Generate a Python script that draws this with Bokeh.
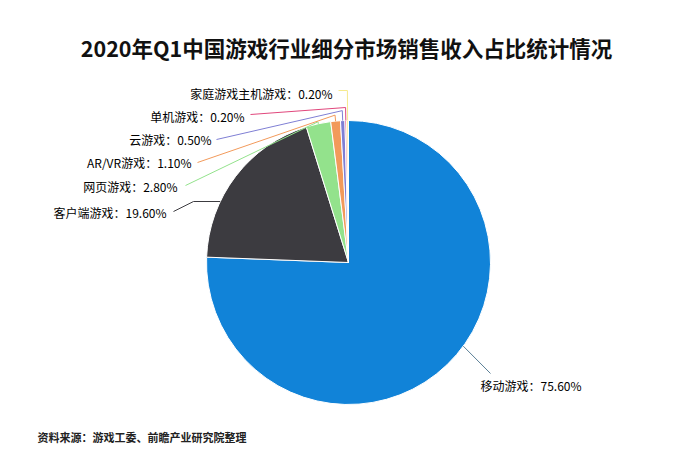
import numpy as np
from bokeh.plotting import figure
from bokeh.models import Range1d, ColumnDataSource
from bokeh.core.properties import value
from bokeh.embed import file_html
from bokeh.resources import INLINE

# ---- data ----
title = "2020年Q1中国游戏行业细分市场销售收入占比统计情况"
categories = ["移动游戏", "客户端游戏", "网页游戏", "AR/VR游戏", "云游戏", "单机游戏", "家庭游戏主机游戏"]
shares = [75.6, 19.6, 2.8, 1.1, 0.5, 0.2, 0.2]
colors = ["#1183d8", "#3c3b40", "#93e28c", "#f29a5b", "#7f7fd4", "#e0477c", "#f6ea8e"]
line_colors = ["#5b7f96", "#3c3b40", "#93e28c", "#f29a5b", "#7f7fd4", "#e0477c", "#f6ea8e"]
source_note = "资料来源：游戏工委、前瞻产业研究院整理"

# ---- layout (screen-like coordinates, y measured from top) ----
W, H = 676, 459
CX, CY, R = 348, 262, 142
# label anchor (x, y, align), radial extension of leader, attach-angle offset (deg)
label_layout = [
    (480, 385, "left", 0, -10),
    (166, 212, "right", 0, -12),
    (177, 186, "right", 2, 0),
    (191, 162, "right", 6, 0),
    (211, 139, "right", 10, 0),
    (244, 116, "right", 13, 0),
    (332, 93, "right", 30, 0),
]
# elbow / end points near labels (list of points from label side)
leader_ends = [
    [(490, 373)], [(173, 211), (193, 201)], [(185, 185)], [(197, 162)],
    [(216, 139)], [(250, 114)], [(338, 90)]
]

def Y(sy):
    return 475 - sy

p = figure(width=W, height=H, output_backend="svg", toolbar_location=None,
           x_range=Range1d(0, W), y_range=Range1d(475 - H, 475),
           min_border=0, outline_line_color=None)
p.axis.visible = False
p.grid.visible = False
p.background_fill_color = "white"

frac = np.array(shares) / np.sum(shares)
cum = np.concatenate([[0], np.cumsum(frac)]) * 360.0
start_cw = cum[:-1]
end_cw = cum[1:]
start = np.deg2rad(90 - start_cw)
end = np.deg2rad(90 - end_cw)

src = ColumnDataSource(dict(start=start, end=end, color=colors))
p.wedge(x=CX, y=Y(CY), radius=R, start_angle="start", end_angle="end",
        direction="clock", fill_color="color", line_color="white", line_width=1,
        source=src)

mid_deg = (start_cw + end_cw) / 2
for i, cat in enumerate(categories):
    lx, ly, align, ext, off = label_layout[i]
    a = np.deg2rad(mid_deg[i] + off)
    px0 = CX + R * np.sin(a)
    py0 = CY - R * np.cos(a)
    px1 = CX + (R + ext) * np.sin(a)
    py1 = CY - (R + ext) * np.cos(a)
    pts = [(px0, py0), (px1, py1)] + list(reversed(leader_ends[i]))
    if i == 1:
        # horizontal segment from the slice edge to the elbow
        ey = leader_ends[i][1][1]
        ex = CX - np.sqrt(R**2 - (CY - ey)**2)
        pts = [(ex, ey)] + list(reversed(leader_ends[i]))
    xs = [q[0] for q in pts]
    ys = [Y(q[1]) for q in pts]
    p.line(xs, ys, line_color=line_colors[i], line_width=1)
    p.text(x=[lx], y=[Y(ly)], text=[f"{cat}：{shares[i]:.2f}%"],
           text_font=value("Noto Sans CJK SC"), text_font_size="12px",
           text_color="#000000", text_align=align, text_baseline="middle")

p.text(x=[346], y=[Y(47)], text=[title], text_font=value("Noto Sans CJK SC"),
       text_font_size="21.5px", text_font_style="bold", text_color="#111111",
       text_align="center", text_baseline="middle")
p.text(x=[37], y=[Y(436)], text=[source_note], text_font=value("Noto Sans CJK SC"),
       text_font_size="11px", text_font_style="bold", text_color="#222222",
       text_align="left", text_baseline="middle")

open("out.html", "w").write(file_html(p, INLINE))
